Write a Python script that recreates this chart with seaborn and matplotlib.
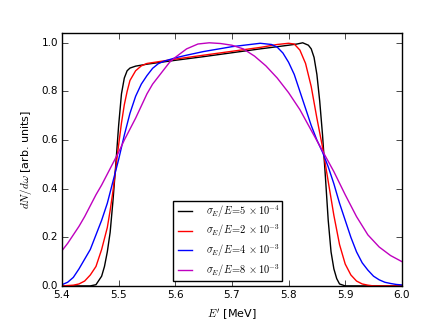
import pandas as pd
import matplotlib
matplotlib.use("Agg")
import matplotlib.pyplot as plt
import seaborn as sns

# valores: energia E' [MeV] y dN/dw para cada anchura
x_k = [5.40, 5.45, 5.46, 5.47, 5.475, 5.48, 5.485, 5.49, 5.495, 5.50, 5.505, 5.51,
       5.515, 5.52, 5.53, 5.55, 5.60, 5.65, 5.70, 5.75, 5.80, 5.815, 5.825, 5.835,
       5.84, 5.845, 5.85, 5.855, 5.86, 5.865, 5.87, 5.875, 5.88, 5.885, 5.89, 5.90, 6.00]
y_k = [0.0, 0.0, 0.005, 0.04, 0.08, 0.14, 0.22, 0.35, 0.50, 0.66, 0.79, 0.855,
       0.885, 0.896, 0.904, 0.912, 0.928, 0.943, 0.959, 0.975, 0.99, 0.995, 1.0, 0.99,
       0.975, 0.94, 0.87, 0.76, 0.62, 0.45, 0.27, 0.14, 0.07, 0.03, 0.008, 0.0, 0.0]

x_r = [5.40, 5.42, 5.43, 5.44, 5.45, 5.46, 5.47, 5.475, 5.48, 5.485, 5.49, 5.495,
       5.50, 5.505, 5.51, 5.515, 5.52, 5.53, 5.54, 5.55, 5.57, 5.60, 5.65, 5.70,
       5.75, 5.78, 5.80, 5.81, 5.82, 5.83, 5.84, 5.85, 5.86, 5.87, 5.88, 5.89,
       5.90, 5.91, 5.92, 5.93, 5.94, 5.95, 6.00]
y_r = [0.0, 0.003, 0.008, 0.02, 0.045, 0.08, 0.15, 0.195, 0.24, 0.31, 0.39, 0.485,
       0.58, 0.67, 0.745, 0.80, 0.845, 0.885, 0.905, 0.915, 0.922, 0.933, 0.949, 0.965,
       0.981, 0.993, 0.998, 0.995, 0.97, 0.915, 0.82, 0.69, 0.57, 0.43, 0.29, 0.17,
       0.09, 0.045, 0.02, 0.008, 0.003, 0.0, 0.0]

x_b = [5.40, 5.41, 5.42, 5.43, 5.44, 5.45, 5.46, 5.47, 5.48, 5.49, 5.50, 5.51,
       5.52, 5.53, 5.54, 5.55, 5.56, 5.57, 5.58, 5.60, 5.62, 5.65, 5.70, 5.75,
       5.77, 5.78, 5.79, 5.80, 5.81, 5.82, 5.83, 5.84, 5.85, 5.86, 5.87, 5.88,
       5.89, 5.90, 5.91, 5.92, 5.93, 5.94, 5.95, 5.96, 5.97, 5.98, 5.99, 6.00]
y_b = [0.005, 0.015, 0.035, 0.07, 0.11, 0.15, 0.21, 0.27, 0.34, 0.43, 0.52, 0.62,
       0.71, 0.78, 0.83, 0.865, 0.895, 0.914, 0.924, 0.938, 0.949, 0.964, 0.984, 0.998,
       0.993, 0.982, 0.958, 0.92, 0.87, 0.80, 0.73, 0.66, 0.60, 0.55, 0.49, 0.42,
       0.34, 0.27, 0.20, 0.14, 0.095, 0.065, 0.04, 0.025, 0.015, 0.01, 0.006, 0.004]

x_m = [5.40, 5.41, 5.42, 5.43, 5.44, 5.45, 5.46, 5.47, 5.48, 5.49, 5.50, 5.51,
       5.52, 5.53, 5.54, 5.55, 5.56, 5.57, 5.58, 5.59, 5.60, 5.62, 5.64, 5.66,
       5.68, 5.70, 5.72, 5.74, 5.76, 5.78, 5.80, 5.82, 5.84, 5.86, 5.88, 5.90,
       5.92, 5.94, 5.96, 5.98, 6.00]
y_m = [0.145, 0.175, 0.21, 0.245, 0.285, 0.33, 0.375, 0.415, 0.46, 0.505, 0.55, 0.60,
       0.645, 0.69, 0.74, 0.79, 0.83, 0.86, 0.89, 0.92, 0.94, 0.975, 0.995, 1.0,
       0.997, 0.99, 0.975, 0.945, 0.905, 0.855, 0.795, 0.725, 0.64, 0.555, 0.47, 0.375,
       0.285, 0.21, 0.16, 0.125, 0.10]

etiquetas = [r"$\sigma_E/E\!=\!5\,\times10^{-4}$",
             r"$\sigma_E/E\!=\!2\,\times10^{-3}$",
             r"$\sigma_E/E\!=\!4\,\times10^{-3}$",
             r"$\sigma_E/E\!=\!8\,\times10^{-3}$"]
colores = ["k", "r", "b", "#bf00bf"]

plt.style.use("classic")
plt.rcParams["font.family"] = ["DejaVu Sans"]
plt.rcParams["font.size"] = 7
plt.rcParams["mathtext.fontset"] = "cm"

fig, ax = plt.subplots(figsize=(4.46, 3.34), dpi=100)
fig.subplots_adjust(left=0.139, right=0.901, top=0.901, bottom=0.144)

curvas = [(x_k, y_k), (x_r, y_r), (x_b, y_b), (x_m, y_m)]
for (xs, ys), lab, col in zip(curvas, etiquetas, colores):
    df = pd.DataFrame({"E": xs, "dN": ys})
    sns.lineplot(data=df, x="E", y="dN", color=col, label=lab, lw=1.0, ax=ax, legend=False)

ax.set_xlim(5.4, 6.0)
ax.set_ylim(0, 1.04)
ax.set_xticks([5.4, 5.5, 5.6, 5.7, 5.8, 5.9, 6.0])
ax.set_yticks([0.0, 0.2, 0.4, 0.6, 0.8, 1.0])
ax.tick_params(labelsize=7.5, pad=3)
ax.set_xlabel(r"$E'$ [MeV]", fontsize=8)
ax.set_ylabel(r"$dN/d\omega$ [arb. units]", fontsize=8)
ax.legend(loc="lower left", bbox_to_anchor=(0.316, 0.008), fontsize=7.5,
          borderaxespad=0.3, labelspacing=0.3, borderpad=0.2,
          handlelength=2.0, handletextpad=1.0)

plt.savefig("out.png", dpi=100)
